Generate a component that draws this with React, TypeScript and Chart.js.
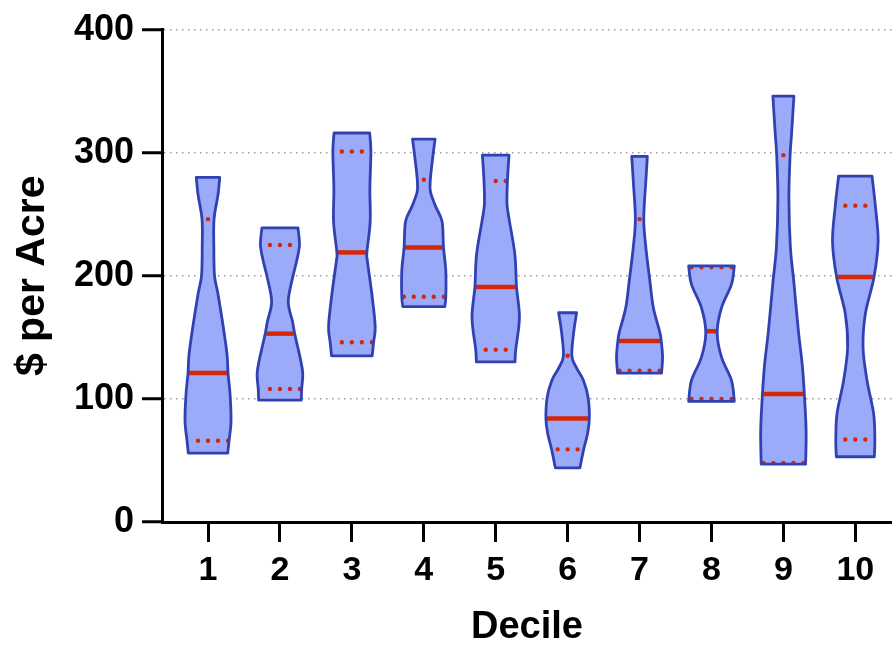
import React, { useEffect, useRef } from "react";
import { Chart, registerables } from "chart.js";

Chart.register(...registerables);

// ---- Data ----
const DECILES = [1, 2, 3, 4, 5, 6, 7, 8, 9, 10];
const DECILE_LABELS = ["1", "2", "3", "4", "5", "6", "7", "8", "9", "10"];
const Y_TICKS = [0, 100, 200, 300, 400];
const X_TITLE = "Decile";
const Y_TITLE = "$ per Acre";

const MINS = [56, 99, 135, 175, 130, 44, 121, 98, 47, 53];
const Q1S = [66, 108, 146, 183, 140, 59, 123, 100, 48, 67];
const MEDIANS = [121, 153, 219, 223, 191, 84, 147, 155, 104, 199];
const Q3S = [246, 225, 301, 278, 277, 135, 246, 207, 298, 257];
const MAXS = [280, 239, 316, 311, 298, 170, 297, 208, 346, 281];

// density profiles: [value, relative density]
const DENSITY_1 = [[56, 19.7], [66, 21], [82, 23], [104, 22], [121, 20], [136, 19], [158, 15.3], [185, 10], [200, 6.5], [223, 5.8], [246, 6], [266, 10], [280, 11.7]];
const DENSITY_2 = [[99, 21.3], [108, 21.7], [120, 22.8], [131, 20.8], [153, 14.7], [163, 12.5], [179, 8.3], [198, 12.5], [212, 16.7], [225, 19.5], [239, 18]];
const DENSITY_3 = [[135, 20.3], [146, 21.7], [159, 23.3], [185, 20], [212, 15.5], [219, 15], [244, 18.3], [271, 18], [301, 19], [316, 17.8]];
const DENSITY_4 = [[175, 21], [183, 22], [204, 22], [223, 19.7], [244, 18.3], [256, 12], [268, 6.7], [278, 6.5], [300, 9.5], [311, 11.3]];
const DENSITY_5 = [[130, 19.3], [140, 20], [166, 23.7], [191, 20.8], [217, 19.2], [244, 13.8], [258, 11.3], [277, 11.7], [298, 13.3]];
const DENSITY_6 = [[44, 12.3], [59, 16], [72, 20], [84, 21.7], [101, 20.5], [115, 15.8], [125, 9], [135, 4.2], [155, 6.2], [170, 9]];
const DENSITY_7 = [[121, 22], [134, 23], [147, 21.7], [155, 20], [174, 13.8], [196, 10.3], [223, 6.3], [246, 4.2], [276, 6.2], [297, 7.8]];
const DENSITY_8 = [[98, 22.8], [115, 20], [134, 10], [154, 5.7], [174, 10], [193, 20], [208, 22.8]];
const DENSITY_9 = [[47, 22.2], [74, 22.7], [103, 21], [128, 18.8], [155, 15], [196, 10.3], [223, 7], [263, 5.5], [298, 6.7], [317, 8.3], [346, 10.5]];
const DENSITY_10 = [[53, 19], [67, 19.5], [88, 18.3], [115, 11.7], [142, 7.7], [169, 10], [199, 18.7], [228, 22.8], [257, 20], [281, 16.7]];
const DENSITIES = [DENSITY_1, DENSITY_2, DENSITY_3, DENSITY_4, DENSITY_5, DENSITY_6, DENSITY_7, DENSITY_8, DENSITY_9, DENSITY_10];

// ---- Styles ----
const DENSITY_PEAK = 23;
const VIOLIN_HALF_WIDTH = 0.32; // in decile units at density peak
const FILL = "rgb(155,171,250)";
const OUTLINE = "rgb(48,66,178)";
const RED = "rgb(214,38,8)";
const FONT = "'Liberation Sans', Arial, sans-serif";

function smoothSide(ctx: CanvasRenderingContext2D, pts: { x: number; y: number }[]) {
  for (let i = 0; i < pts.length - 1; i++) {
    const p0 = pts[Math.max(0, i - 1)];
    const p1 = pts[i];
    const p2 = pts[i + 1];
    const p3 = pts[Math.min(pts.length - 1, i + 2)];
    const c1x = p1.x + (p2.x - p0.x) / 6;
    const c1y = p1.y + (p2.y - p0.y) / 6;
    const c2x = p2.x - (p3.x - p1.x) / 6;
    const c2y = p2.y - (p3.y - p1.y) / 6;
    ctx.bezierCurveTo(c1x, c1y, c2x, c2y, p2.x, p2.y);
  }
}

function interp(prof: number[][], v: number) {
  if (v <= prof[0][0]) return prof[0][1];
  for (let i = 0; i < prof.length - 1; i++) {
    const [a, wa] = prof[i];
    const [b, wb] = prof[i + 1];
    if (v >= a && v <= b) return wa + ((v - a) / (b - a)) * (wb - wa);
  }
  return prof[prof.length - 1][1];
}

function violinPath(ctx: CanvasRenderingContext2D, left: any[], right: any[]) {
  ctx.beginPath();
  ctx.moveTo(left[left.length - 1].x, left[left.length - 1].y);
  ctx.lineTo(right[0].x, right[0].y);
  smoothSide(ctx, right);
  ctx.lineTo(left[0].x, left[0].y);
  smoothSide(ctx, left);
  ctx.closePath();
}

const violinPlugin = {
  id: "violins",
  beforeDatasetsDraw(chart: any) {
    const { ctx } = chart;
    const x = chart.scales.x;
    const y = chart.scales.y;
    const unitPx = x.getPixelForValue(1) - x.getPixelForValue(0);
    const k = (unitPx * VIOLIN_HALF_WIDTH) / DENSITY_PEAK;
    DECILES.forEach((d, i) => {
      const cx = x.getPixelForValue(d);
      const prof = DENSITIES[i];
      const right = prof.map(([v, w]) => ({ x: cx + w * k, y: y.getPixelForValue(v) }));
      const left = prof.map(([v, w]) => ({ x: cx - w * k, y: y.getPixelForValue(v) })).reverse();
      ctx.save();
      violinPath(ctx, left, right);
      ctx.fillStyle = FILL;
      ctx.fill();

      // median
      const hm = interp(prof, MEDIANS[i]) * k;
      const ym = y.getPixelForValue(MEDIANS[i]);
      ctx.beginPath();
      ctx.moveTo(cx - hm + 1, ym);
      ctx.lineTo(cx + hm - 1, ym);
      ctx.strokeStyle = RED;
      ctx.lineWidth = 4.5;
      ctx.lineCap = "butt";
      ctx.stroke();

      // quartiles
      [Q1S[i], Q3S[i]].forEach((q) => {
        const hq = interp(prof, q) * k;
        const yq = y.getPixelForValue(q);
        ctx.beginPath();
        ctx.moveTo(cx - hq + 2, yq);
        ctx.lineTo(cx + hq - 1, yq);
        ctx.setLineDash([0, 10]);
        ctx.lineDashOffset = -((hq - 2) % 10);
        ctx.lineCap = "round";
        ctx.lineWidth = 4.4;
        ctx.strokeStyle = RED;
        ctx.stroke();
        ctx.setLineDash([]);
      });

      // outline
      violinPath(ctx, left, right);
      ctx.strokeStyle = OUTLINE;
      ctx.lineWidth = 2.8;
      ctx.lineJoin = "round";
      ctx.stroke();
      ctx.restore();
    });
  },
};

export default function App() {
  const ref = useRef<HTMLCanvasElement | null>(null);
  useEffect(() => {
    if (!ref.current) return;
    const chart = new Chart(ref.current, {
      type: "scatter",
      data: {
        datasets: [
          {
            label: "Median",
            data: DECILES.map((d, i) => ({ x: d, y: MEDIANS[i] })),
            pointRadius: 0,
            pointHoverRadius: 0,
          },
        ],
      },
      options: {
        responsive: false,
        animation: false,
        events: [],
        layout: { padding: { top: 27, right: 0, left: 0, bottom: 0 } },
        plugins: { legend: { display: false }, tooltip: { enabled: false } },
        scales: {
          x: {
            type: "linear",
            min: 0.36,
            max: 10.51,
            afterFit: (s: any) => {
              s.height = 126;
            },
            afterBuildTicks: (s: any) => {
              s.ticks = DECILES.map((v) => ({ value: v }));
            },
            ticks: {
              callback: (v: any) => DECILE_LABELS[DECILES.indexOf(Number(v))] ?? "",
              font: { family: FONT, weight: "bold", size: 34 },
              color: "#000",
              padding: 8,
              maxRotation: 0,
              autoSkip: false,
            },
            grid: {
              drawOnChartArea: false,
              drawTicks: true,
              tickLength: 20,
              tickWidth: 3,
              tickColor: "#000",
            },
            border: { display: true, color: "#000", width: 3 },
            title: {
              display: true,
              text: X_TITLE,
              font: { family: FONT, weight: "bold", size: 38 },
              color: "#000",
              padding: { top: 0, bottom: -2 },
            },
          },
          y: {
            type: "linear",
            min: 0,
            max: 400,
            afterFit: (s: any) => {
              s.width = 162;
            },
            afterBuildTicks: (s: any) => {
              s.ticks = Y_TICKS.map((v) => ({ value: v }));
            },
            ticks: {
              font: { family: FONT, weight: "bold", size: 36 },
              color: "#000",
              padding: 8,
            },
            grid: {
              drawOnChartArea: true,
              color: (c: any) => (c.tick && c.tick.value === 0 ? "rgba(0,0,0,0)" : "#9a9a9a"),
              lineWidth: 1.5,
              drawTicks: true,
              tickLength: 20,
              tickWidth: 3,
              tickColor: "#000",
            },
            border: { display: true, color: "#000", width: 3, dash: [1.5, 4.5] },
            title: {
              display: true,
              text: Y_TITLE,
              font: { family: FONT, weight: "bold", size: 41 },
              color: "#000",
              padding: { top: 8, bottom: 0 },
            },
          },
        },
      },
      plugins: [violinPlugin],
    } as any);
    return () => chart.destroy();
  }, []);
  return (
    <div style={{ position: "absolute", left: 0, top: 0, width: 892, height: 648, background: "#fff" }}>
      <canvas ref={ref} width={892} height={648} />
    </div>
  );
}
